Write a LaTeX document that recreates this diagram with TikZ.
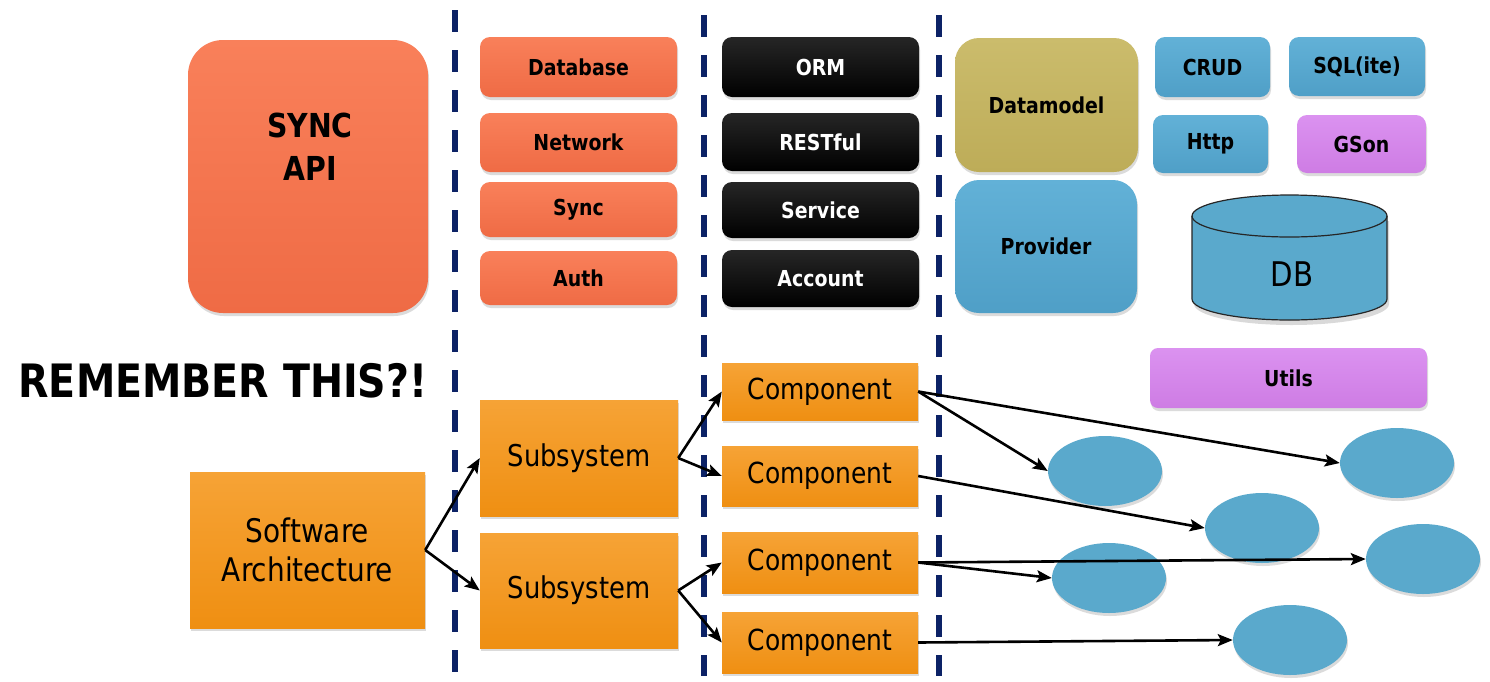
\documentclass[tikz,border=0pt]{standalone}
\usepackage{fontspec}
\setmainfont{DejaVu Sans}[FakeStretch=0.86]
\usetikzlibrary{arrows.meta,shapes.geometric,shadows}

% palette
\definecolor{coralT}{HTML}{F9805A}
\definecolor{coralB}{HTML}{EF6B45}
\definecolor{inkT}{HTML}{262626}
\definecolor{inkB}{HTML}{000000}
\definecolor{khakiT}{HTML}{CBBC6C}
\definecolor{khakiB}{HTML}{BDAC58}
\definecolor{blueT}{HTML}{62B1D7}
\definecolor{blueB}{HTML}{4F9FC7}
\definecolor{violetT}{HTML}{DB92F0}
\definecolor{violetB}{HTML}{CE7CE4}
\definecolor{orangeT}{HTML}{F6A336}
\definecolor{orangeB}{HTML}{EF8F12}
\definecolor{blobblue}{HTML}{5AA9CC}
\definecolor{navy}{HTML}{0C2266}

% a node spanning the rectangle (x1,y1)-(x2,y2), given in pixel units
\newcommand\boxat[7]{%
  \node[#6, minimum width={#4-#2}, minimum height={#5-#3}] (#1)
    at ({(#2+#4)/2},{(#3+#5)/2}) {#7};}

\tikzset{
  shade/.style={drop shadow={opacity=0.28, shadow xshift=1pt, shadow yshift=-3pt}},
  tile/.style={shade, inner sep=0pt, align=center, rounded corners=10pt,
    font=\fontsize{22}{26}\selectfont\bfseries},
  coral/.style={tile, top color=coralT, bottom color=coralB},
  ink/.style={tile, top color=inkT, bottom color=inkB, text=white},
  khaki/.style={tile, top color=khakiT, bottom color=khakiB, rounded corners=24pt},
  sky/.style={tile, top color=blueT, bottom color=blueB},
  violet/.style={tile, top color=violetT, bottom color=violetB},
  orangebox/.style={shade, inner sep=0pt, align=center, top color=orangeT,
    bottom color=orangeB, font=\fontsize{29}{38}\selectfont},
  blob/.style={ellipse, shade, fill=blobblue, inner sep=0pt,
    minimum width=114pt, minimum height=70pt},
  separator/.style={navy, line width=6pt, dash pattern=on 22pt off 18pt},
  conn/.style={line width=2.6pt, -{Stealth[length=15pt,width=12pt,inset=3pt]}},
}

\begin{document}
\begin{tikzpicture}[x=1pt,y=-1pt]
\fill[white] (0,0) rectangle (1490,681);
\path[use as bounding box] (0,0) rectangle (1490,681);

% column separators
\draw[separator] (455,10) -- (455,676);
\draw[separator] (704,15) -- (704,676);
\draw[separator] (939,15) -- (939,676);

% API block
\boxat{sync}{188}{40}{428}{313}{coral, rounded corners=35pt}{}
\node[font=\fontsize{33}{43}\selectfont\bfseries, align=center] (synctext) at (310,147) {SYNC\\API};

% layer tiles
\boxat{database}{480}{37}{677}{97}{coral}{Database}
\boxat{network}{480}{113}{677}{172}{coral}{Network}
\boxat{synctile}{480}{182}{677}{237}{coral}{Sync}
\boxat{auth}{480}{251}{677}{305}{coral}{Auth}

\boxat{orm}{722}{37}{919}{97}{ink}{ORM}
\boxat{restful}{722}{113}{919}{171}{ink}{RESTful}
\boxat{service}{722}{182}{919}{238}{ink}{Service}
\boxat{account}{722}{250}{919}{307}{ink}{Account}

\boxat{datamodel}{955}{38}{1138}{172}{khaki}{Datamodel}
\boxat{provider}{955}{180}{1137}{313}{sky, rounded corners=24pt}{Provider}

\boxat{crud}{1155}{37}{1270}{97}{sky}{CRUD}
\boxat{sqlite}{1289}{37}{1425}{96}{sky}{SQL(ite)}
\boxat{http}{1153}{115}{1268}{173}{sky}{Http}
\boxat{gson}{1297}{115}{1426}{173}{violet}{GSon}

% database cylinder
\fill[black, opacity=0.15] (1194,221) -- (1194,304) arc[start angle=180, end angle=360, x radius=97.5pt, y radius=21pt] -- (1389,221) -- cycle;
\filldraw[fill=blobblue, draw=black!85, line width=1.2pt]
  (1192,216) -- (1192,299) arc[start angle=180, end angle=360, x radius=97.5pt, y radius=21pt]
  -- (1387,216) arc[start angle=0, end angle=180, x radius=97.5pt, y radius=21pt] -- cycle;
\draw[draw=black!85, line width=1.2pt] (1192,216) arc[start angle=180, end angle=360, x radius=97.5pt, y radius=21pt];
\node[font=\fontsize{34}{40}\selectfont] (db) at (1292,274) {DB};

\boxat{utils}{1150}{348}{1427}{408}{violet, rounded corners=8pt}{Utils}

% heading
\node[anchor=west, font=\fontsize{46}{56}\selectfont\bfseries] (remember) at (15,381) {REMEMBER THIS?!};

% decomposition tree
\boxat{arch}{190}{472}{425}{628}{orangebox, font=\fontsize{32.5}{39}\selectfont}{Software\\Architecture}
\boxat{sub1}{480}{400}{678}{516}{orangebox, font=\fontsize{30}{36}\selectfont}{Subsystem}
\boxat{sub2}{480}{533}{678}{648}{orangebox, font=\fontsize{30}{36}\selectfont}{Subsystem}
\boxat{comp1}{722}{363}{918}{420}{orangebox}{Component}
\boxat{comp2}{722}{446}{918}{506}{orangebox}{Component}
\boxat{comp3}{722}{532}{918}{593}{orangebox}{Component}
\boxat{comp4}{722}{612}{918}{673}{orangebox}{Component}

\node[blob] (e1) at (1105,471) {};
\node[blob] (e2) at (1397,463) {};
\node[blob] (e3) at (1262,528) {};
\node[blob] (e4) at (1109,578) {};
\node[blob] (e5) at (1423,559) {};
\node[blob] (e6) at (1290,640) {};

\draw[conn] (arch.east) -- (sub1.west);
\draw[conn] (arch.east) -- (sub2.west);
\draw[conn] (sub1.east) -- (comp1.west);
\draw[conn] (sub1.east) -- (comp2.west);
\draw[conn] (sub2.east) -- (comp3.west);
\draw[conn] (sub2.east) -- (comp4.west);

\draw[conn] (comp1.east) -- (e1.west);
\draw[conn] (comp1.east) -- (e2.west);
\draw[conn] (comp2.east) -- (e3.west);
\draw[conn] (comp3.east) -- (e5.west);
\draw[conn] (comp3.east) -- (e4.west);
\draw[conn] (comp4.east) -- (e6.west);
\end{tikzpicture}
\end{document}
